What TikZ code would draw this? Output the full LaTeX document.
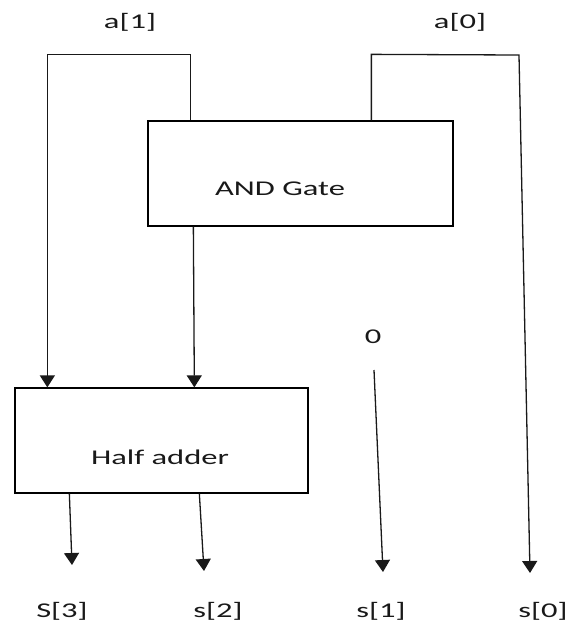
\documentclass[tikz,border=0pt]{standalone}
\usepackage{fontspec}
\setmainfont{Carlito}[FakeStretch=1.55]
\usetikzlibrary{arrows.meta}
\tikzset{
  blk/.style={draw=black, line width=1.3pt, inner sep=0pt},
  lbl/.style={inner sep=0pt, text=black!90, font=\fontsize{21}{25}\selectfont},
  wire/.style={draw=black!90, line width=1.3pt},
  arr/.style={wire, -{Triangle[width=15pt,length=12pt]}}
}
\begin{document}
\begin{tikzpicture}[x=1pt,y=-1pt]
\useasboundingbox (0,0) rectangle (567,622);
% boxes
\node[blk, minimum width=305pt, minimum height=105pt] (and) at (300.5,173.5) {};
\node[lbl] (andtxt) at (280,189) {AND Gate};
\node[blk, minimum width=293pt, minimum height=105pt] (ha) at (161.5,440.5) {};
\node[lbl] (hatxt) at (160,457) {Half adder};
% labels
\node[lbl] (a1) at (130,22) {a[1]};
\node[lbl] (a0) at (460,22) {a[0]};
\node[lbl] (zero) at (373,337) {0};
\node[lbl] (s3) at (62,611) {S[3]};
\node[lbl] (s2) at (218,611) {s[2]};
\node[lbl] (s1) at (381,611) {s[1]};
\node[lbl] (s0) at (543,611) {s[0]};
% coordinates
\coordinate (c0) at (519,55);
\coordinate (t0) at (530,573);
\coordinate (z0) at (374,370);
\coordinate (t1) at (383,572);
\coordinate (t2) at (204,571);
\coordinate (t3) at (72,565);
% wires
\draw[arr] ([xshift=43pt]and.north west) -- ++(0,-66) -| ([xshift=33pt]ha.north west);
\draw[arr] ([xshift=46pt]and.south west) -- ([xshift=180pt]ha.north west);
\draw[arr] ([xshift=224pt]and.north west) -- ++(0,-66) -- (c0) -- (t0);
\draw[arr] (z0) -- (t1);
\draw[arr] ([xshift=55pt]ha.south west) -- (t3);
\draw[arr] ([xshift=185pt]ha.south west) -- (t2);
\end{tikzpicture}
\end{document}
